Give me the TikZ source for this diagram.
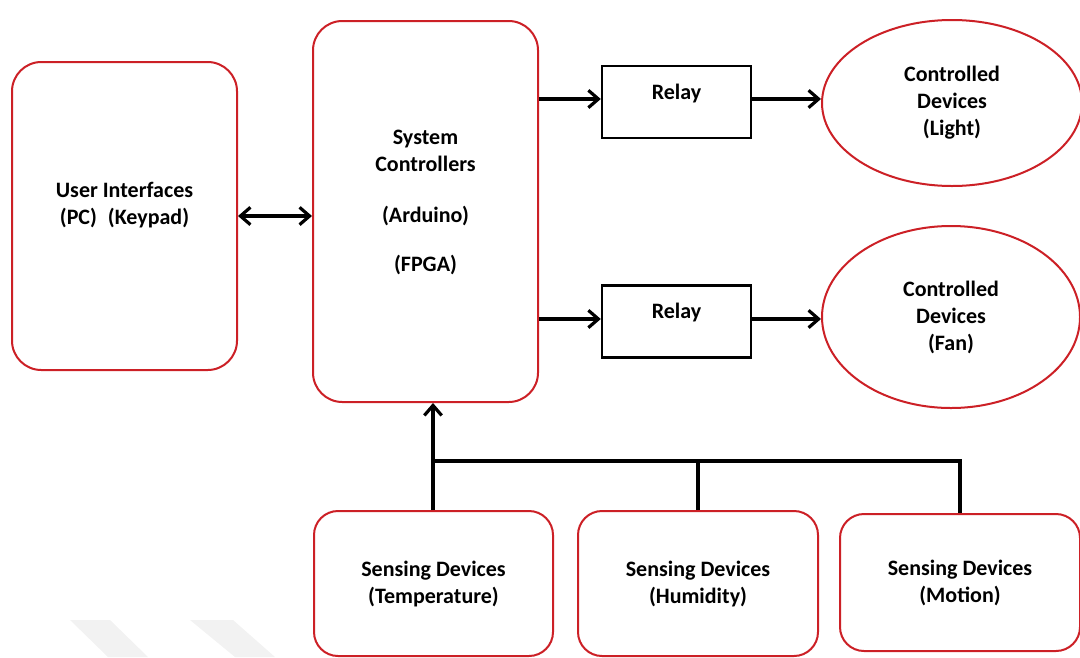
\documentclass[tikz,border=0pt]{standalone}
\usepackage{fontspec}
\setmainfont{Carlito}
\usetikzlibrary{arrows.meta, positioning, shapes.geometric}
\definecolor{framered}{RGB}{204,32,38}
\definecolor{wmgray}{RGB}{242,242,242}

\begin{document}
\begin{tikzpicture}[
  x=0.75pt, y=-0.75pt,
  every node/.style={font=\fontsize{16.5}{20.25}\selectfont\bfseries,
                     align=center, inner sep=0pt},
  rbox/.style={draw=framered, line width=1.5pt, fill=white, rounded corners=22pt},
  relaybox/.style={draw=black, line width=1.8pt, fill=white,
                   minimum width=111.75pt, minimum height=54pt},
  dev/.style={ellipse, draw=framered, line width=1.5pt, fill=white},
  txt/.style={draw=none, fill=none},
  arr/.style={-{Straight Barb[length=7.5pt, width=13pt]}, line width=2.4pt},
  darr/.style={{Straight Barb[length=7.5pt, width=13pt]}-{Straight Barb[length=7.5pt, width=13pt]},
               line width=2.4pt},
  bus/.style={line width=2.4pt}
]
  \useasboundingbox (0,0) rectangle (1080,657);

  % faint stripes along the bottom edge
  \fill[wmgray] (70,620) -- (110,620) -- (148,657) -- (108,657) -- cycle;
  \fill[wmgray] (190,620) -- (233,620) -- (275,657) -- (235,657) -- cycle;

  % User side
  \node[rbox, minimum width=168.75pt, minimum height=231pt] (ui) at (124.5,216) {};
  \node[txt] (uitxt) at (124.5,205.5) {User Interfaces\\(PC)\enspace(Keypad)};

  % Controller
  \node[rbox, minimum width=168.75pt, minimum height=285.75pt] (sc) at (425.5,211.5) {};
  \node[txt] (sctxt) at (425.5,202.5)
       {System\\Controllers\\[18pt](Arduino)\\[17pt](FPGA)};

  % Relays
  \node[relaybox] (rly1) at (676.5,102) {};
  \node[txt] (rly1txt) at (676.5,94) {Relay};
  \node[relaybox] (rly2) at (676.5,321.5) {};
  \node[txt] (rly2txt) at (676.5,313) {Relay};

  % Controlled devices
  \node[dev, minimum width=195pt, minimum height=124.5pt] (light) at (952,103)
       {Controlled\\Devices\\(Light)};
  \node[dev, minimum width=193.5pt, minimum height=136.5pt] (fan) at (951,317)
       {Controlled\\Devices\\(Fan)};

  % Sensing devices
  \node[rbox, rounded corners=18pt, minimum width=179.25pt, minimum height=108.75pt]
       (temp) at (433.5,583.5) {Sensing Devices\\(Temperature)};
  \node[rbox, rounded corners=18pt, minimum width=180pt, minimum height=108.75pt]
       (hum) at (698,583.5) {Sensing Devices\\(Humidity)};
  \node[rbox, rounded corners=18pt, minimum width=180pt, minimum height=102.75pt]
       (mot) at (960,582.5) {Sensing Devices\\(Motion)};

  % Arrows
  \coordinate (row1) at (0,99);
  \coordinate (row2) at (0,319);
  \draw[darr] (ui.east) -- (ui.east -| sc.west);
  \draw[arr] (sc.east |- row1) -- (rly1.west |- row1);
  \draw[arr] (sc.east |- row2) -- (rly2.west |- row2);
  \draw[arr] (rly1.east |- row1) -- (light.west |- row1);
  \draw[arr] (rly2.east |- row2) -- (fan.west |- row2);

  % Sensor bus
  \coordinate (busL) at (433,461);
  \draw[arr] (temp.north -| busL) -- (sc.south -| busL);
  \draw[bus] (busL) -| (mot.north);
  \draw[bus] (hum.north) -- (hum.north |- busL);
\end{tikzpicture}
\end{document}
